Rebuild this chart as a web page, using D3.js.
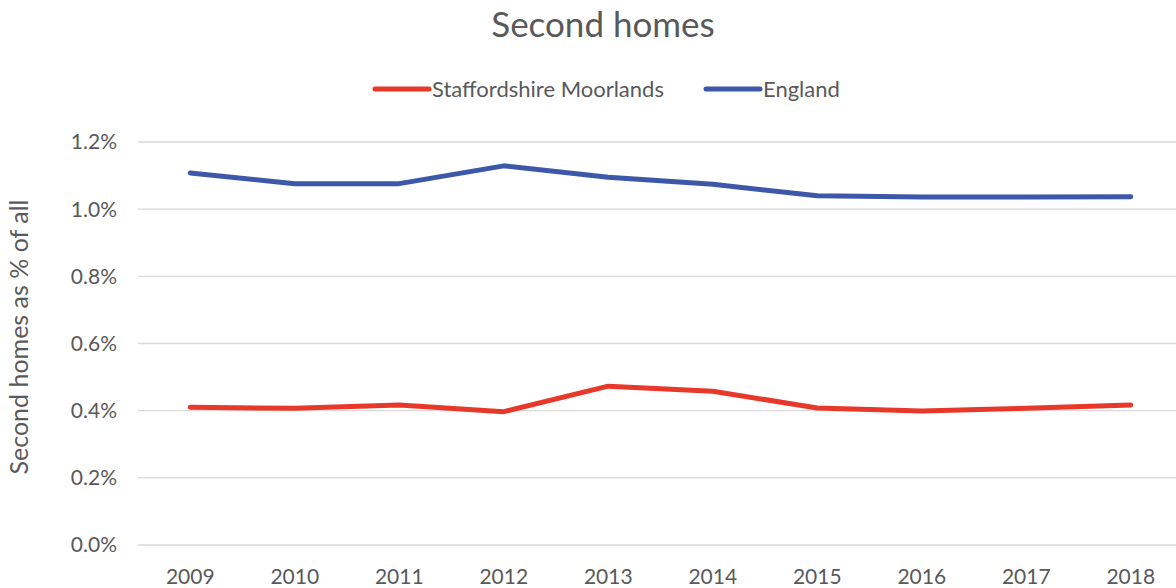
<!DOCTYPE html>
<html>
<head>
<meta charset="utf-8">
<script src="https://cdn.jsdelivr.net/npm/d3@7"></script>
<style>
  body { margin: 0; background: #fff; }
  text { font-family: Lato, "Open Sans", sans-serif; fill: #595959; }
</style>
</head>
<body>
<div id="chart"></div>
<script>
// Chart dimensions and margins.
const width = 1176;
const height = 588;
const margin = { top: 142, right: -7, bottom: 43, left: 138 };

// Data.
const years = ["2009", "2010", "2011", "2012", "2013", "2014", "2015", "2016", "2017", "2018"];
const moorlands = [0.410, 0.407, 0.417, 0.397, 0.473, 0.458, 0.408, 0.399, 0.407, 0.417];
const england = [1.108, 1.076, 1.076, 1.129, 1.095, 1.074, 1.040, 1.036, 1.036, 1.037];
const yTicks = [0, 0.2, 0.4, 0.6, 0.8, 1.0, 1.2];
const seriesNames = ["Staffordshire Moorlands", "England"];
const seriesColors = ["#E8382A", "#3D58A8"];

const series = [moorlands, england];

const svg = d3.select("#chart").append("svg")
    .attr("width", width)
    .attr("height", height);

const x = d3.scaleBand()
    .domain(years)
    .range([margin.left, width - margin.right]);

const y = d3.scaleLinear()
    .domain([0, 1.2])
    .range([height - margin.bottom, margin.top]);

// Gridlines
svg.append("g")
    .selectAll("line")
    .data(yTicks)
    .enter()
    .append("line")
    .attr("x1", margin.left)
    .attr("x2", width)
    .attr("y1", d => y(d))
    .attr("y2", d => y(d))
    .attr("stroke", "#D9D9D9")
    .attr("stroke-width", 1.3);

// Y tick labels
svg.append("g")
    .selectAll("text")
    .data(yTicks)
    .enter()
    .append("text")
    .attr("x", 117)
    .attr("y", d => y(d))
    .attr("dy", "0.35em")
    .attr("text-anchor", "end")
    .style("font-size", "21px")
    .text(d => d.toFixed(1) + "%");

// X tick labels
svg.append("g")
    .selectAll("text")
    .data(years)
    .enter()
    .append("text")
    .attr("x", d => x(d) + x.bandwidth() / 2)
    .attr("y", 584)
    .attr("text-anchor", "middle")
    .style("font-size", "21px")
    .text(d => d);

// Y axis title
svg.append("text")
    .attr("transform", "translate(28,337) rotate(-90)")
    .attr("text-anchor", "middle")
    .style("font-size", "25px")
    .text("Second homes as % of all");

// Title
svg.append("text")
    .attr("x", 603)
    .attr("y", 37)
    .attr("text-anchor", "middle")
    .style("font-size", "35px")
    .text("Second homes");

// Lines
const line = d3.line()
    .x((d, i) => x(years[i]) + x.bandwidth() / 2)
    .y(d => y(d));

svg.append("g")
    .selectAll("path")
    .data(series)
    .enter()
    .append("path")
    .attr("d", d => line(d))
    .attr("fill", "none")
    .attr("stroke", (d, i) => seriesColors[i])
    .attr("stroke-width", 5)
    .attr("stroke-linecap", "round")
    .attr("stroke-linejoin", "round");

// Legend
const legendX = [375, 706];
const legend = svg.append("g")
    .selectAll("g")
    .data(seriesNames)
    .enter()
    .append("g")
    .attr("transform", (d, i) => `translate(${legendX[i]},89)`);

legend.append("line")
    .attr("x1", 0)
    .attr("x2", 54)
    .attr("stroke", (d, i) => seriesColors[i])
    .attr("stroke-width", 5)
    .attr("stroke-linecap", "round");

legend.append("text")
    .attr("x", 57)
    .attr("dy", "0.35em")
    .style("font-size", "22px")
    .text(d => d);
</script>
</body>
</html>
